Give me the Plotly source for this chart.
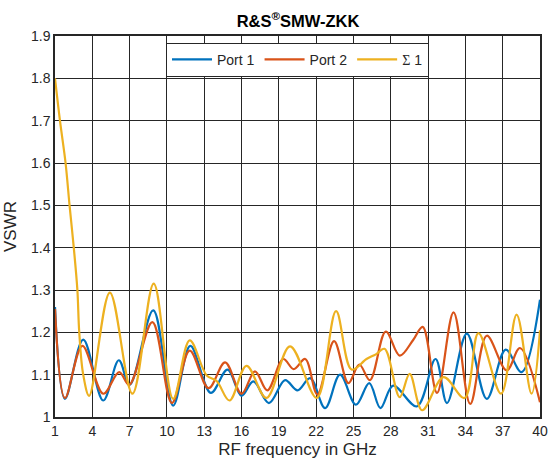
import plotly.graph_objects as go

# Port 1 (blue)
p1_f = [1, 1.8, 3.27, 4.88, 6.13, 7.0, 8.9, 10.5, 11.88, 13.53, 14.87, 16.0, 16.95, 18.2, 19.5,
        20.5, 21.52, 22.72, 23.92, 25.2, 26.27, 27.17, 28.19, 30.1, 31.6, 32.52, 34.12, 35.72,
        37.24, 38.52, 40]
p1_v = [1.26, 1.043, 1.183, 1.039, 1.134, 1.076, 1.252, 1.027, 1.168, 1.057, 1.112, 1.05, 1.084,
        1.033, 1.087, 1.063, 1.092, 1.021, 1.10, 1.029, 1.08, 1.021, 1.074, 1.025, 1.137, 1.033,
        1.197, 1.043, 1.159, 1.106, 1.277]

# Port 2 (orange)
p2_f = [1, 1.8, 3.2, 4.88, 6.16, 6.96, 8.83, 10.4, 11.83, 13.35, 14.68, 16.0, 17.08, 18.07, 19.35,
        20.2, 21.12, 22.1, 23.44, 24.59, 25.47, 26.32, 27.6, 28.72, 29.8, 30.57, 31.72, 33.05,
        34.39, 35.72, 37.32, 38.39, 40]
p2_v = [1.255, 1.045, 1.168, 1.055, 1.106, 1.076, 1.224, 1.033, 1.157, 1.068, 1.129, 1.055, 1.108,
        1.063, 1.137, 1.113, 1.137, 1.053, 1.179, 1.08, 1.124, 1.087, 1.202, 1.145, 1.182, 1.213,
        1.057, 1.247, 1.031, 1.192, 1.11, 1.163, 1.035]

# Sigma 1 (yellow)
s1_f = [1, 1.4, 1.85, 2.17, 2.51, 2.8, 2.95, 3.27, 3.75, 5.41, 7.23, 8.94, 10.5, 11.83, 13.2, 14.0,
        15.03, 16.4, 18.0, 19.9, 22.05, 23.6, 24.85, 26.05, 26.8, 27.5, 28.72, 29.52, 30.52, 32.25,
        33.93, 35.05, 36.87, 38.12, 39.32, 40]
s1_v = [1.8, 1.7, 1.6, 1.5, 1.4, 1.3, 1.2, 1.1, 1.05, 1.294, 1.055, 1.315, 1.043, 1.181, 1.098, 1.085,
        1.039, 1.121, 1.045, 1.167, 1.045, 1.25, 1.112, 1.137, 1.148, 1.161, 1.047, 1.102, 1.016,
        1.094, 1.045, 1.198, 1.055, 1.242, 1.055, 1.205]

x_ticks = [1, 4, 7, 10, 13, 16, 19, 22, 25, 28, 31, 34, 37, 40]
y_ticks = [1.0, 1.1, 1.2, 1.3, 1.4, 1.5, 1.6, 1.7, 1.8, 1.9]
y_tick_text = ["1", "1.1", "1.2", "1.3", "1.4", "1.5", "1.6", "1.7", "1.8", "1.9"]

series = [("Port 1", p1_f, p1_v, "#0072BD"),
          ("Port 2", p2_f, p2_v, "#D95319"),
          ("<span style=\"font-family:'Liberation Serif','DejaVu Serif',serif\">Σ</span> 1",
           s1_f, s1_v, "#EDB120")]

fig = go.Figure()
for name, f, v, c in series:
    fig.add_trace(go.Scatter(x=f, y=v, mode="lines", name=name,
                             line=dict(color=c, width=2.2, shape="spline", smoothing=1.0)))

font_family = "Liberation Sans, Arial, Helvetica, sans-serif"
fig.update_layout(
    width=552, height=465,
    margin=dict(l=55, r=12, t=36, b=48),
    paper_bgcolor="white", plot_bgcolor="white",
    font=dict(family=font_family, size=14, color="#262626"),
    title=dict(text="<b>R&S<sup>®</sup>SMW-ZKK</b>", x=0.54, xanchor="center",
               y=0.955, yanchor="middle", font=dict(size=16.5, color="black")),
    showlegend=True,
    legend=dict(orientation="h", x=0.5, xanchor="center", y=0.982, yanchor="top",
                bgcolor="white", bordercolor="#262626", borderwidth=1,
                font=dict(size=14, color="#262626"), itemwidth=40,
                traceorder="normal"),
)
fig.update_xaxes(range=[1, 40], tickvals=x_ticks, ticktext=[str(t) for t in x_ticks],
                 showgrid=True, gridcolor="#262626", gridwidth=1,
                 showline=True, linecolor="#262626", linewidth=1.5, mirror=True,
                 zeroline=False, ticks="", ticklen=0, automargin=False,
                 title=dict(text="RF frequency in GHz", font=dict(size=17), standoff=6))
fig.update_yaxes(range=[1, 1.9], tickvals=y_ticks, ticktext=y_tick_text,
                 showgrid=True, gridcolor="#262626", gridwidth=1,
                 showline=True, linecolor="#262626", linewidth=1.5, mirror=True,
                 zeroline=False, ticks="", ticklen=0, automargin=False,
                 title=dict(text="VSWR", font=dict(size=17), standoff=10))

fig.write_html("out.html", config={"displayModeBar": False},
               post_script="document.body.style.margin='0';")
